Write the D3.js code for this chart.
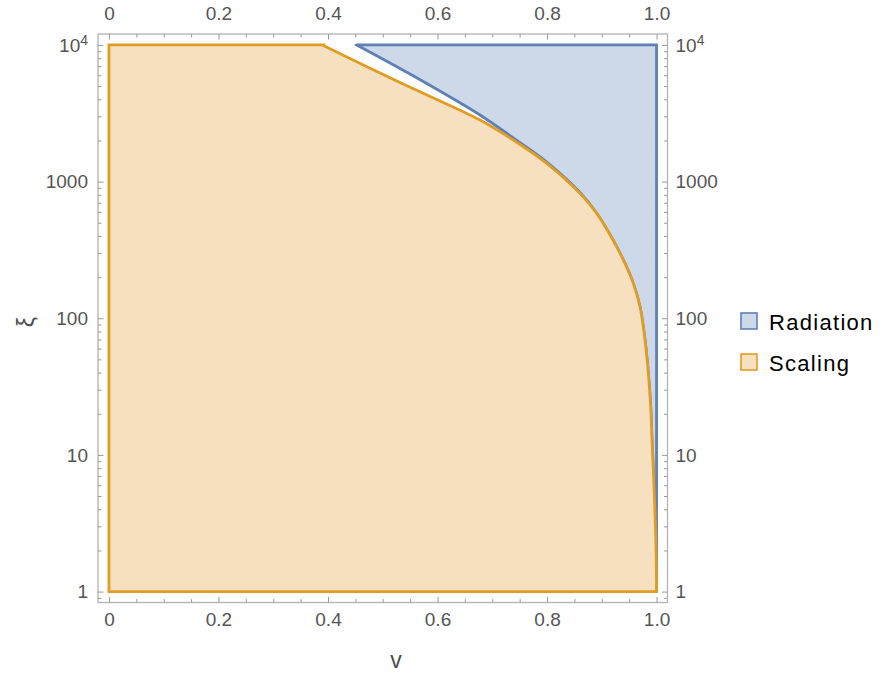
<!DOCTYPE html>
<html>
<head>
<meta charset="utf-8">
<script src="https://cdn.jsdelivr.net/npm/d3@7"></script>
<style>
  body { margin: 0; background: #fff; }
  svg { display: block; font-family: "Liberation Sans", Arial, sans-serif; }
</style>
</head>
<body>
<svg id="chart" width="888" height="686"></svg>
<script>
// shared boundary curve (v, xi)
var curveV  = [0.3896, 0.5315, 0.6776, 0.7384, 0.7994, 0.8602, 0.8907, 0.9205, 0.9393, 0.9575, 0.9698, 0.9789, 0.985, 0.9893, 0.9917, 0.9941, 0.9963, 0.9981, 0.9994, 1.0]
var curveXi = [10000, 5300, 2823, 2016, 1361, 821, 586, 374, 267, 180, 121.5, 69.3, 39.6, 22.5, 12.9, 7.76, 4.68, 2.82, 1.70, 1]

// upper edge of the radiation region before it joins the curve
var radV  = [0.4524, 0.5498, 0.6776, 0.7384, 0.7994, 0.8602]
var radXi = [10000, 6124, 3071, 2084, 1391, 832]

var xTicks = [0, 0.2, 0.4, 0.6, 0.8, 1.0]
var yTicks = [1, 10, 100, 1000, 10000]
var seriesNames = ["Radiation", "Scaling"]
var seriesStroke = ["#5e81b5", "#e19c24"]
var seriesFill = ["#cdd9e8", "#f6e0bf"]

var svg = d3.select("#chart")

var fLeft = 98, fRight = 667.5, fTop = 34, fBottom = 602.5
var x = d3.scaleLinear().domain([-0.02, 1.02]).range([fLeft, fRight])
var y = d3.scaleLog().domain([Math.pow(10, -0.08), Math.pow(10, 4.08)]).range([fBottom, fTop])

function curvePath(pts){
	// smooth through the curve points, continuing the current path
	var p = d3.line().curve(d3.curveCatmullRom.alpha(0.5))
		.x(function(d){ return x(d[0]) })
		.y(function(d){ return y(d[1]) })(pts)
	return "L" + p.slice(1)
}

var curvePts = curveV.map(function(v, i){ return [v, curveXi[i]] })

// radiation region: upper edge, then curve down to (1,1), then up the right side
var radPts = radV.map(function(v, i){ return [v, radXi[i]] })
	.concat(curvePts.filter(function(d){ return d[0] > 0.88 }))
var radPath = "M" + x(radPts[0][0]) + "," + y(radPts[0][1]) + curvePath(radPts)
	+ "L" + x(1) + "," + y(1) + "L" + x(1) + "," + y(10000) + "Z"

var scalePath = "M" + x(0) + "," + y(1) + "L" + x(0) + "," + y(10000)
	+ "L" + x(curvePts[0][0]) + "," + y(curvePts[0][1]) + curvePath(curvePts) + "Z"

var g = svg.append("g")
g.append("path").attr("d", radPath)
	.attr("fill", seriesFill[0]).attr("stroke", seriesStroke[0])
	.attr("stroke-width", 2.8).attr("stroke-linejoin", "miter")
g.append("path").attr("d", scalePath)
	.attr("fill", seriesFill[1]).attr("stroke", seriesStroke[1])
	.attr("stroke-width", 2.8).attr("stroke-linejoin", "miter")

// frame
svg.append("rect")
	.attr("x", fLeft).attr("y", fTop)
	.attr("width", fRight - fLeft).attr("height", fBottom - fTop)
	.attr("fill", "none").attr("stroke", "#b3b3b3").attr("stroke-width", 1.3)

var xMinor = d3.range(0, 1.0001, 0.05).filter(function(d){ return Math.abs(d*5 - Math.round(d*5)) > 1e-6 })
var yMinor = []
for(var e = -1; e < 4; e++){
	for(var k = 2; k < 10; k++){
		var val = k * Math.pow(10, e)
		if(val > y.domain()[0] && val < 10000) yMinor.push(val)
	}
}

function fmtX(d){ return d == 0 ? "0" : d3.format(".1f")(d) }
function fmtY(d){ return d == 10000 ? "10" : String(d) }

function styleAxis(sel){
	sel.select(".domain").remove()
	sel.selectAll("line").attr("stroke", "#999").attr("stroke-width", 1)
	sel.selectAll("text").attr("fill", "#555").style("font-size", "19px")
		.style("font-family", "'Liberation Sans', Arial, sans-serif")
}

function addAxis(axisFn, tx, ty, scale, major, minor, fmt, pad){
	var gMinor = svg.append("g").attr("transform", "translate(" + tx + "," + ty + ")")
		.call(axisFn(scale).tickValues(minor).tickSize(-3.5).tickFormat(""))
	styleAxis(gMinor)
	var gMajor = svg.append("g").attr("transform", "translate(" + tx + "," + ty + ")")
		.call(axisFn(scale).tickValues(major).tickSize(-5.5).tickPadding(pad).tickFormat(fmt))
	styleAxis(gMajor)
	return gMajor
}

addAxis(d3.axisBottom, 0, fBottom, x, xTicks, xMinor, fmtX, 10.5)
addAxis(d3.axisTop, 0, fTop, x, xTicks, xMinor, fmtX, 14)
var gl = addAxis(d3.axisLeft, fLeft, 0, y, yTicks, yMinor, fmtY, 10)
var gr = addAxis(d3.axisRight, fRight, 0, y, yTicks, yMinor, fmtY, 8)

// superscript for 10^4
;[gl, gr].forEach(function(ax){
	ax.selectAll(".tick text").filter(function(d){ return d == 10000 })
		.append("tspan").attr("dy", "-0.45em").style("font-size", "14px").text("4")
})

// axis titles
svg.append("text").attr("x", 396).attr("y", 668)
	.attr("text-anchor", "middle").attr("fill", "#4d4d4d")
	.style("font-size", "23px").text("v")
svg.append("text").attr("transform", "translate(34,322) rotate(-90)")
	.attr("text-anchor", "middle").attr("fill", "#4d4d4d")
	.style("font-size", "23px").text("ξ")

// legend
var legend = svg.append("g").attr("transform", "translate(741,313)")
seriesNames.forEach(function(name, i){
	var row = legend.append("g").attr("transform", "translate(0," + (i * 41) + ")")
	row.append("rect").attr("x", 0).attr("y", 0).attr("width", 16).attr("height", 16)
		.attr("fill", seriesFill[i]).attr("stroke", seriesStroke[i]).attr("stroke-width", 1.6)
	row.append("text").attr("x", 28).attr("y", 17)
		.attr("fill", "#000").style("font-size", "22px").style("letter-spacing", "1.3px")
		.text(name)
})
</script>
</body>
</html>
